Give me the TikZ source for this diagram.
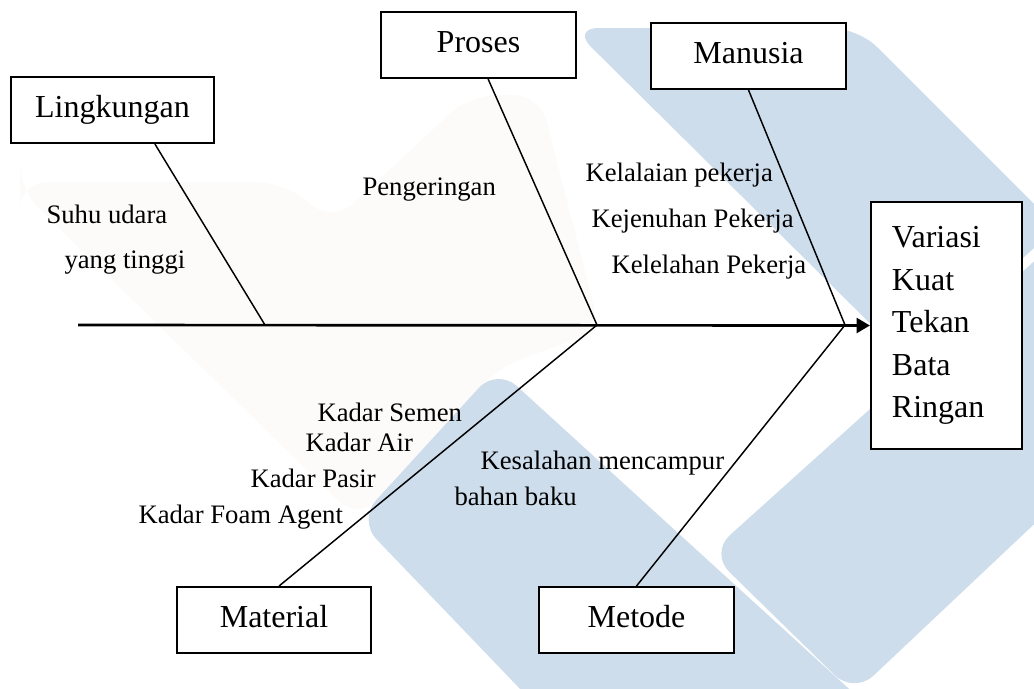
\documentclass[tikz,border=0pt]{standalone}
\usepackage{fontspec}
\setmainfont{Liberation Serif}
\usetikzlibrary{arrows.meta}
\definecolor{logoblue}{RGB}{205,221,236}
\definecolor{logofaint}{RGB}{252,251,250}
\tikzset{
    cause/.style={draw, fill=white, line width=0.75pt, minimum width=73pt, minimum height=24.75pt,
        text height=8.4pt, text depth=3pt, font=\fontsize{12}{14}\selectfont},
    effect/.style={draw, fill=white, line width=0.75pt, minimum width=56.6pt, minimum height=92.6pt,
        text width=40.9pt, inner xsep=7.9pt, align=left, font=\fontsize{12}{15.9}\selectfont},
    sub/.style={anchor=base west, inner sep=0pt, font=\fontsize{10}{12}\selectfont},
    bone/.style={line width=0.55pt},
    spine/.style={line width=1pt, -{Triangle[length=5pt, width=5.6pt]}}
}

\begin{document}
\begin{tikzpicture}[x=0.375pt, y=-0.375pt]
            \useasboundingbox (0,0) rectangle (1034,688);

            %Watermark
            \begin{scope}
                \clip (0,0) rectangle (1034,688);
                \fill[logofaint, rounded corners=10pt] (20,182) -- (283,182) -- (333,222) -- (470,95)
                    -- (540,95) -- (600,330) -- (497,368) -- (358,520) -- (20,190) -- cycle;
                \fill[logoblue, rounded corners=10pt] (572,28) -- (858,28) -- (1057,227) -- (909,362) -- cycle;
                \fill[logoblue, rounded corners=10pt] (710,553) -- (1100,202) -- (1100,462) -- (854,694) -- cycle;
                \fill[logoblue, rounded corners=10pt] (497,368) -- (881,718) -- (548,718) -- (358,520) -- cycle;
            \end{scope}

            %Nodes
            \node[cause, minimum width=76pt] at (112.5,110) (ling) {Lingkungan};
            \node[cause] at (478.5,45) (proses) {Proses};
            \node[cause] at (748.5,56) (manusia) {Manusia};
            \node[cause] at (274,620) (material) {Material};
            \node[cause] at (636.5,620) (metode) {Metode};
            \node[effect] at (946.5,325.5) (variasi) {Variasi\\Kuat\\Tekan\\Bata\\Ringan};

            \coordinate (tail) at (78,325);
            \coordinate (j1) at (265,325);
            \coordinate (j2) at (597,325);
            \coordinate (j3) at (845,325);

            %Sub causes
            \node[sub] at (46,223) (suhu) {Suhu udara};
            \node[sub] at (64,268) (tinggi) {yang tinggi};
            \node[sub] at (362,195) (kering) {Pengeringan};
            \node[sub] at (585,181) (lalai) {Kelalaian pekerja};
            \node[sub] at (591,227) (jenuh) {Kejenuhan Pekerja};
            \node[sub] at (611,273) (lelah) {Kelelahan Pekerja};
            \node[sub] at (317,421) (semen) {Kadar Semen};
            \node[sub] at (305,451) (air) {Kadar Air};
            \node[sub] at (250,487) (pasir) {Kadar Pasir};
            \node[sub] at (138,523) (foam) {Kadar Foam Agent};
            \node[sub] at (480,469) (salah) {Kesalahan mencampur};
            \node[sub] at (454,505) (baku) {bahan baku};

            %Lines
            \draw[spine] (tail) -- (variasi.west);
            \draw[bone] ([xshift=15.9pt]ling.south) -- (j1);
            \draw[bone] ([xshift=3.6pt]proses.south) -- (j2);
            \draw[bone] (manusia.south) -- (j3);
            \draw[bone] ([xshift=1.9pt]material.north) -- (j2);
            \draw[bone] (metode.north) -- (j3);
        \end{tikzpicture}
\end{document}
